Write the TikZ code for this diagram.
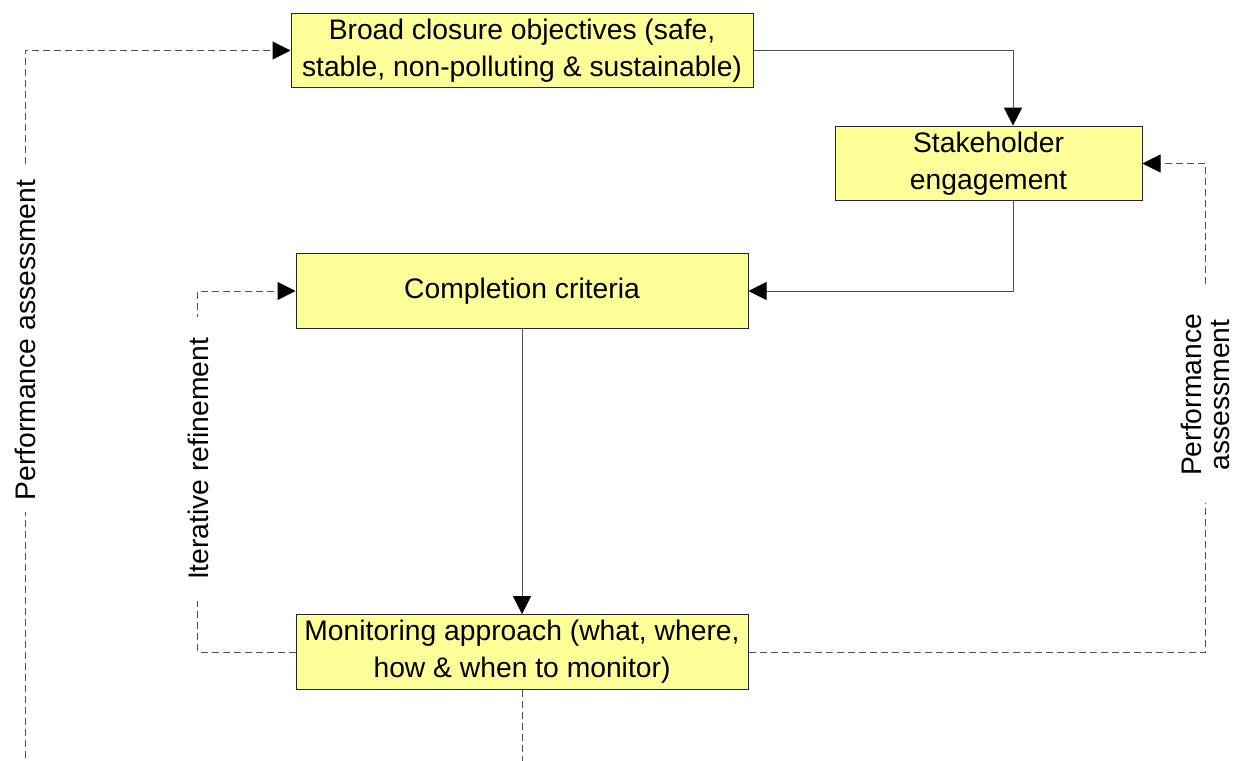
\documentclass[tikz,border=0pt]{standalone}
\usepackage{fontspec}
\setmainfont{Liberation Sans}
\usetikzlibrary{arrows.meta, positioning, calc}
\definecolor{boxYellow}{HTML}{FFFF99}
\definecolor{lineGrey}{HTML}{505050}

\begin{document}
\begin{tikzpicture}[
    x=0.75pt, y=-0.75pt,
    block/.style={draw=black!85, fill=boxYellow, line width=0.75pt, font=\fontsize{21.2}{27.75}\selectfont, align=center, minimum height=56pt, inner sep=0pt},
    arr/.style={-{Triangle[length=13.5pt, width=13.5pt, color=black]}, line width=0.75pt, color=lineGrey},
    fb/.style={line width=0.75pt, color=lineGrey, dash pattern=on 5.25pt off 3pt},
    fbarr/.style={fb, -{Triangle[length=13.5pt, width=13.5pt, color=black]}},
    lbl/.style={font=\fontsize{21.2}{21}\selectfont, rotate=90, fill=white, align=center, inner ysep=1pt}
]
    \clip (0,0) rectangle (1238,760);

    % boxes
    \node[block, minimum width=346.5pt] (broad) at (522,50.5) {Broad closure objectives (safe,\\stable, non-polluting \& sustainable)};
    \node[block, minimum width=230.25pt] (stake) at (988.5,163.5) {Stakeholder\\engagement};
    \node[block, minimum width=339pt] (crit) at (522,291) {Completion criteria};
    \node[block, minimum width=339pt] (monit) at (522,652) {Monitoring approach (what, where,\\how \& when to monitor)};

    % main chain
    \coordinate (sTop) at ($(stake.north)+(24.5,0)$);
    \coordinate (sBot) at ($(stake.south)+(24.5,0)$);
    \draw[arr] (broad.east) -| (sTop);
    \draw[arr] (sBot) |- (crit.east);
    \draw[arr] (crit) -- (monit);

    % feedback loops
    \coordinate (rbend) at ($(stake.east)+(63,0)$);
    \draw[fbarr] (monit.east) -| (rbend) -- (stake.east);
    \coordinate (ibend) at ($(crit.west)+(-98,0)$);
    \draw[fbarr] (monit.west) -| (ibend) -- (crit.west);
    \coordinate (lbot) at (25,800);
    \draw[fbarr] (monit.south) |- (lbot) |- (broad.west);

    % loop labels
    \node[lbl, inner xsep=20pt] (rlab) at (1205,395) {Performance\\assessment};
    \node[lbl, inner xsep=16pt] (ilab) at (198,459) {Iterative refinement};
    \node[lbl, inner xsep=9pt] (llab) at (25,340) {Performance assessment};
\end{tikzpicture}
\end{document}
